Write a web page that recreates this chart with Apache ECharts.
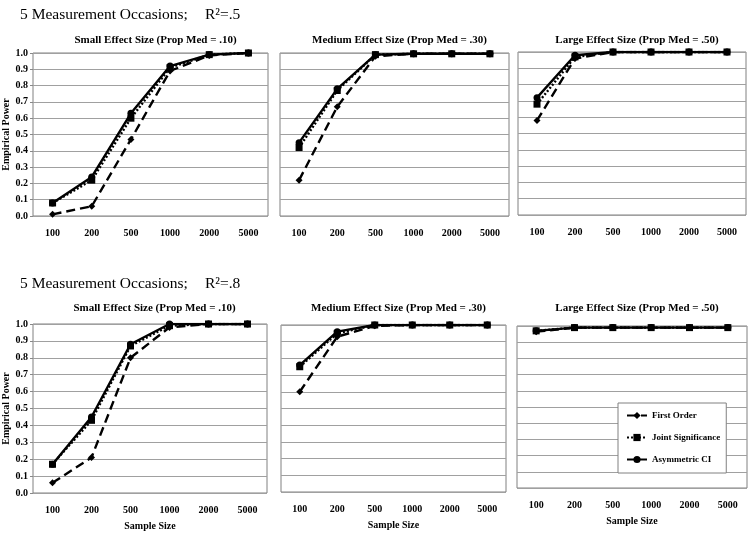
<!DOCTYPE html>
<html>
<head>
<meta charset="utf-8">
<script src="https://cdn.jsdelivr.net/npm/echarts@6/dist/echarts.min.js"></script>
<style>html,body{margin:0;padding:0;background:#fff}#c{width:750px;height:535px}</style>
</head>
<body>
<div id="c"></div>
<script>
const categories = ['100', '200', '500', '1000', '2000', '5000'];
const seriesNames = ['First Order', 'Joint Significance', 'Asymmetric CI'];
const rowTitles = ['5 Measurement Occasions;', '5 Measurement Occasions;'];
const rowR2 = ['R\u00B2=.5', 'R\u00B2=.8'];
const panelTitles = ['Small Effect Size (Prop Med = .10)', 'Medium Effect Size (Prop Med = .30)', 'Large Effect Size (Prop Med = .50)'];

// R2 = .5
const r5SmallFirst = [0.01, 0.06, 0.47, 0.89, 0.985, 1.0];
const r5SmallJoint = [0.08, 0.22, 0.60, 0.91, 0.99, 1.0];
const r5SmallAsym  = [0.08, 0.24, 0.63, 0.92, 0.99, 1.0];
const r5MedFirst   = [0.22, 0.67, 0.98, 0.995, 0.995, 0.995];
const r5MedJoint   = [0.42, 0.77, 0.99, 0.995, 0.995, 0.995];
const r5MedAsym    = [0.45, 0.78, 0.99, 0.995, 0.995, 0.995];
const r5LargeFirst = [0.58, 0.96, 1.0, 1.0, 1.0, 1.0];
const r5LargeJoint = [0.68, 0.97, 1.0, 1.0, 1.0, 1.0];
const r5LargeAsym  = [0.72, 0.98, 1.0, 1.0, 1.0, 1.0];
// R2 = .8
const r8SmallFirst = [0.06, 0.21, 0.80, 0.98, 1.0, 1.0];
const r8SmallJoint = [0.17, 0.43, 0.87, 0.99, 1.0, 1.0];
const r8SmallAsym  = [0.17, 0.45, 0.88, 1.0, 1.0, 1.0];
const r8MedFirst   = [0.60, 0.93, 0.995, 1.0, 1.0, 1.0];
const r8MedJoint   = [0.75, 0.95, 1.0, 1.0, 1.0, 1.0];
const r8MedAsym    = [0.76, 0.96, 1.0, 1.0, 1.0, 1.0];
const r8LargeFirst = [0.965, 0.99, 0.99, 0.99, 0.99, 0.99];
const r8LargeJoint = [0.97, 0.99, 0.99, 0.99, 0.99, 0.99];
const r8LargeAsym  = [0.97, 0.99, 0.99, 0.99, 0.99, 0.99];

const panelData = [
  [r5SmallFirst, r5SmallJoint, r5SmallAsym],
  [r5MedFirst, r5MedJoint, r5MedAsym],
  [r5LargeFirst, r5LargeJoint, r5LargeAsym],
  [r8SmallFirst, r8SmallJoint, r8SmallAsym],
  [r8MedFirst, r8MedJoint, r8MedAsym],
  [r8LargeFirst, r8LargeJoint, r8LargeAsym]
];

const FONT = '"Liberation Serif", "Times New Roman", serif';
const grids = [
  {left: 33, top: 53, width: 235, height: 163},
  {left: 280, top: 53, width: 229, height: 163},
  {left: 518, top: 52, width: 228, height: 163},
  {left: 32, top: 324, width: 235, height: 169},
  {left: 281, top: 325, width: 225, height: 167},
  {left: 517, top: 326, width: 230, height: 162}
];

const styles = [
  {type: [9, 5], symbol: 'diamond', size: 7},
  {type: [2, 2], symbol: 'rect', size: 7},
  {type: 'solid', symbol: 'circle', size: 7}
];

const title = [];
[0, 1].forEach(r => {
  const y = r === 0 ? 2 : 271;
  title.push({text: rowTitles[r], left: 15, top: y, textStyle: {fontFamily: FONT, fontSize: 15.5, fontWeight: 'normal', color: '#000'}});
  title.push({text: rowR2[r], left: 200, top: y, textStyle: {fontFamily: FONT, fontSize: 15.5, fontWeight: 'normal', color: '#000'}});
});
grids.forEach((g, i) => {
  title.push({
    text: panelTitles[i % 3],
    left: g.left + g.width / 2, textAlign: 'center',
    top: i < 3 ? 30 : 298,
    textStyle: {fontFamily: FONT, fontSize: 11, fontWeight: 'bold', color: '#000'}
  });
});

const xAxis = grids.map((g, i) => ({
  type: 'category', gridIndex: i, data: categories, boundaryGap: true,
  axisLine: {show: false}, axisTick: {show: false},
  axisLabel: {fontFamily: FONT, fontSize: 10, fontWeight: 'bold', color: '#000', margin: 12},
  name: i >= 3 ? 'Sample Size' : '', nameLocation: 'middle', nameGap: 28,
  nameTextStyle: {fontFamily: FONT, fontSize: 10, fontWeight: 'bold', color: '#000'}
}));
const yAxis = grids.map((g, i) => ({
  type: 'value', gridIndex: i, min: 0, max: 1, interval: 0.1,
  axisLine: {show: false},
  axisTick: {show: i % 3 === 0, length: 3, lineStyle: {color: '#888'}},
  axisLabel: {show: i % 3 === 0, fontFamily: FONT, fontSize: 10, fontWeight: 'bold', color: '#000', margin: 5,
    formatter: v => v.toFixed(1)},
  splitLine: {show: true, lineStyle: {color: '#a0a0a0', width: 1}},
  name: i % 3 === 0 ? 'Empirical Power' : '', nameLocation: 'middle', nameGap: 22, nameRotate: 90,
  nameTextStyle: {fontFamily: FONT, fontSize: 10, fontWeight: 'bold', color: '#000'}
}));

const series = [];
panelData.forEach((arrs, p) => {
  arrs.forEach((vals, s) => {
    series.push({
      name: seriesNames[s], type: 'line', xAxisIndex: p, yAxisIndex: p,
      data: vals, symbol: styles[s].symbol, symbolSize: styles[s].size,
      lineStyle: {color: '#000', width: 2.4, type: styles[s].type},
      itemStyle: {color: '#000'}, z: 2 + s, animation: false
    });
  });
});

const chart = echarts.init(document.getElementById('c'), null, {renderer: 'canvas'});
chart.setOption({
  backgroundColor: '#fff',
  animation: false,
  title: title,
  grid: grids.map(g => Object.assign({show: true, borderColor: '#808080', borderWidth: 1, backgroundColor: 'transparent'}, g)),
  xAxis: xAxis,
  yAxis: yAxis,
  legend: {
    data: seriesNames, orient: 'vertical', left: 618, top: 403, width: 107,
    padding: [8, 6, 9, 8], itemGap: 13, itemWidth: 20, itemHeight: 9,
    borderColor: '#808080', borderWidth: 1, backgroundColor: '#fff',
    textStyle: {fontFamily: FONT, fontSize: 9, fontWeight: 'bold', color: '#000'}
  },
  series: series
});
</script>
</body>
</html>
